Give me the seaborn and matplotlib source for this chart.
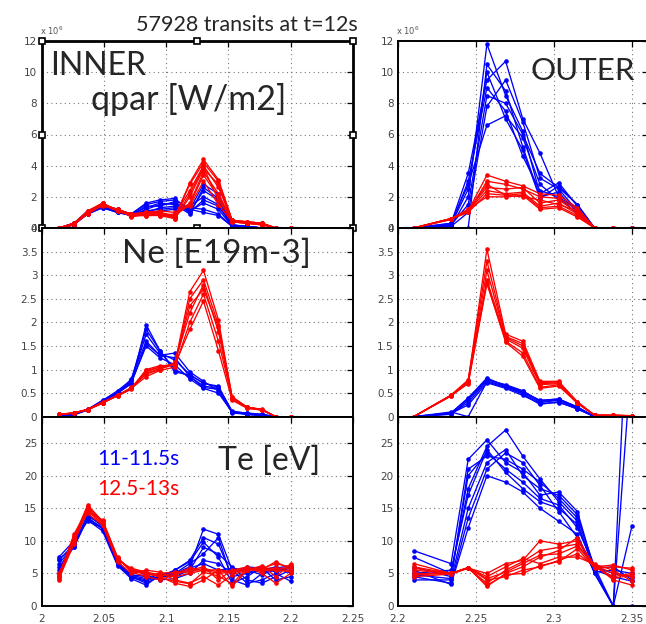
import numpy as np
import pandas as pd
import matplotlib
matplotlib.use("Agg")
import matplotlib.pyplot as plt
from matplotlib.ticker import FuncFormatter
import seaborn as sns

# ---------------- data ----------------
x_in = [2.014, 2.026, 2.037, 2.049, 2.061, 2.072, 2.084, 2.095, 2.107,
        2.119, 2.130, 2.142, 2.153, 2.165, 2.177, 2.188, 2.200]
x_out = [2.210, 2.234, 2.245, 2.257, 2.269, 2.280, 2.291, 2.303, 2.315,
         2.326, 2.338, 2.350]

# INNER qpar [1e6 W/m2]
qpar_in_blue = [
    [0, 0.3, 1.0, 1.4, 1.1, 0.9, 1.5, 1.7, 1.8, 1.2, 2.8, 2.2, 0.2, 0.1, 0, 0, 0],
    [0, 0.3, 0.9, 1.3, 1.0, 0.8, 1.2, 1.5, 1.6, 1.0, 2.4, 1.8, 0.1, 0.1, 0, 0, 0],
    [0, 0.2, 1.0, 1.4, 1.1, 0.9, 1.0, 1.3, 1.4, 1.4, 2.0, 1.5, 0.2, 0.05, 0, 0, 0],
    [0, 0.3, 1.1, 1.5, 1.2, 0.9, 1.6, 1.8, 1.9, 1.1, 1.6, 1.2, 0.1, 0.1, 0, 0, 0],
    [0, 0.2, 0.9, 1.3, 1.0, 0.8, 0.9, 1.1, 1.2, 1.3, 1.2, 0.9, 0.1, 0, 0, 0, 0],
    [0, 0.3, 1.0, 1.4, 1.1, 0.9, 1.3, 1.6, 1.5, 0.9, 2.6, 1.9, 0.2, 0.1, 0, 0, 0],
    [0, 0.2, 1.0, 1.4, 1.0, 0.9, 1.1, 1.2, 1.3, 1.2, 1.0, 0.8, 0.1, 0.05, 0, 0, 0],
    [0, 0.3, 0.9, 1.4, 1.1, 0.8, 1.4, 1.4, 1.7, 1.0, 1.8, 1.4, 0.15, 0.1, 0, 0, 0],
]
qpar_in_red = [
    [0, 0.3, 1.0, 1.6, 1.1, 0.8, 0.9, 0.9, 0.7, 2.8, 4.2, 3.0, 0.5, 0.4, 0.3, 0, 0],
    [0, 0.25, 0.9, 1.5, 1.2, 0.9, 1.0, 1.0, 0.8, 2.4, 4.0, 2.6, 0.5, 0.35, 0.3, 0, 0],
    [0, 0.3, 1.1, 1.5, 1.1, 0.8, 0.8, 0.9, 0.6, 2.0, 3.8, 2.8, 0.4, 0.3, 0.25, 0, 0],
    [0, 0.2, 1.0, 1.4, 1.2, 0.9, 1.0, 0.8, 0.9, 1.6, 3.6, 2.2, 0.45, 0.4, 0.3, 0, 0],
    [0, 0.3, 1.0, 1.6, 1.1, 0.8, 0.9, 1.0, 0.7, 2.9, 4.4, 3.1, 0.5, 0.35, 0.3, 0, 0],
    [0, 0.25, 0.9, 1.5, 1.2, 0.7, 0.9, 0.9, 0.8, 1.5, 3.4, 2.0, 0.4, 0.3, 0.2, 0, 0],
    [0, 0.3, 1.0, 1.5, 1.1, 0.8, 0.8, 0.8, 0.6, 2.2, 3.9, 1.8, 0.5, 0.4, 0.3, 0, 0],
    [0, 0.2, 1.1, 1.6, 1.1, 0.9, 1.0, 1.1, 1.0, 1.4, 3.0, 1.5, 0.4, 0.3, 0.2, 0, 0],
]

# INNER Ne [E19 m-3]
ne_in_blue = [
    [0, 0.05, 0.15, 0.33, 0.5, 0.7, 1.95, 1.4, 1.0, 0.85, 0.65, 0.6, 0.1, 0.05, 0.03, 0, 0],
    [0, 0.05, 0.15, 0.35, 0.52, 0.75, 1.75, 1.35, 1.2, 0.9, 0.7, 0.65, 0.1, 0.08, 0.05, 0, 0],
    [0, 0.04, 0.14, 0.3, 0.48, 0.8, 1.6, 1.3, 1.35, 0.95, 0.75, 0.55, 0.08, 0.05, 0.02, 0, 0],
    [0, 0.05, 0.16, 0.33, 0.5, 0.72, 1.5, 1.25, 1.1, 0.8, 0.6, 0.5, 0.1, 0.06, 0.04, 0, 0],
    [0, 0.05, 0.15, 0.34, 0.55, 0.78, 1.85, 1.4, 0.95, 0.88, 0.72, 0.62, 0.12, 0.07, 0.05, 0, 0],
    [0, 0.04, 0.15, 0.32, 0.5, 0.7, 1.55, 1.3, 1.25, 0.85, 0.62, 0.58, 0.1, 0.05, 0.03, 0, 0],
]
ne_in_red = [
    [0.05, 0.08, 0.15, 0.3, 0.45, 0.6, 0.95, 1.05, 1.12, 2.65, 3.1, 2.05, 0.4, 0.2, 0.15, 0, 0],
    [0.04, 0.08, 0.14, 0.3, 0.44, 0.58, 1.0, 1.08, 1.1, 2.5, 2.9, 1.95, 0.42, 0.2, 0.16, 0, 0],
    [0.05, 0.07, 0.15, 0.28, 0.45, 0.62, 0.9, 1.0, 1.15, 2.2, 2.8, 1.8, 0.38, 0.18, 0.14, 0, 0],
    [0.05, 0.08, 0.16, 0.3, 0.46, 0.6, 0.85, 0.98, 1.05, 2.0, 2.6, 1.6, 0.4, 0.2, 0.15, 0, 0],
    [0.04, 0.08, 0.15, 0.3, 0.45, 0.6, 0.92, 1.02, 1.1, 1.85, 2.45, 1.4, 0.35, 0.18, 0.14, 0, 0],
    [0.05, 0.08, 0.15, 0.31, 0.44, 0.61, 0.98, 1.05, 1.12, 2.35, 2.7, 1.9, 0.42, 0.2, 0.15, 0, 0],
]

# INNER Te [eV]
te_in_blue = [
    [7.0, 9.5, 13.5, 12.0, 6.5, 4.5, 3.5, 4.5, 5.0, 6.0, 11.8, 11.0, 5.5, 3.5, 4.0, 5.0, 3.8],
    [6.0, 9.0, 13.8, 12.5, 6.8, 4.8, 4.5, 4.2, 5.5, 7.0, 10.5, 9.5, 4.5, 5.0, 5.5, 6.0, 5.0],
    [5.5, 9.8, 13.2, 11.5, 6.2, 4.2, 3.2, 4.8, 4.5, 5.5, 9.0, 8.0, 6.0, 4.0, 3.5, 4.5, 5.5],
    [7.5, 10.0, 13.0, 12.0, 6.5, 4.5, 4.0, 5.0, 5.0, 6.5, 8.0, 10.5, 4.0, 3.2, 5.0, 5.5, 6.0],
    [6.5, 9.2, 13.6, 11.8, 6.6, 4.6, 4.8, 4.0, 4.2, 5.0, 7.0, 6.5, 5.0, 6.0, 5.8, 4.0, 4.5],
    [5.0, 9.5, 14.0, 12.2, 6.4, 4.4, 3.8, 4.6, 5.5, 6.8, 9.8, 7.5, 3.5, 4.5, 6.0, 5.2, 5.8],
    [7.2, 9.0, 13.4, 11.9, 6.7, 4.7, 4.2, 4.4, 4.8, 5.8, 6.5, 5.5, 5.8, 5.5, 4.8, 5.8, 6.2],
]
te_in_red = [
    [4.0, 10.5, 15.5, 13.0, 7.3, 5.5, 5.0, 4.5, 3.5, 3.0, 4.0, 5.5, 3.0, 5.5, 5.8, 6.5, 6.0],
    [4.5, 11.0, 14.8, 12.5, 7.0, 5.8, 5.2, 4.8, 4.5, 5.0, 5.5, 5.0, 5.2, 5.5, 5.6, 5.5, 5.5],
    [5.0, 10.0, 14.5, 13.2, 7.5, 5.2, 4.5, 4.0, 4.8, 5.5, 6.0, 4.0, 5.5, 6.0, 5.0, 3.5, 5.0],
    [4.2, 9.5, 15.0, 12.8, 7.2, 5.6, 4.8, 5.0, 5.2, 5.2, 5.8, 5.2, 5.4, 5.8, 5.8, 5.8, 5.8],
    [4.8, 10.8, 14.2, 12.4, 6.8, 5.0, 5.5, 5.2, 4.0, 3.5, 4.5, 3.2, 4.8, 5.5, 6.2, 4.5, 6.5],
    [4.4, 10.2, 15.2, 13.0, 7.4, 5.4, 4.9, 4.6, 5.0, 5.8, 5.4, 5.6, 5.2, 5.6, 5.4, 5.6, 5.2],
    [4.6, 10.4, 14.6, 12.6, 7.1, 5.7, 5.1, 4.4, 3.8, 3.4, 5.2, 4.6, 3.4, 5.8, 5.6, 6.8, 5.6],
]

# OUTER qpar [1e6 W/m2]
qpar_out_blue = [
    [0, 0.1, 2.0, 11.8, 8.5, 6.2, 2.2, 2.9, 1.4, 0, 0, 0],
    [0, 0.3, 3.5, 9.5, 10.7, 7.0, 4.8, 2.0, 1.2, 0, 0, 0],
    [0, 0.2, 1.5, 8.5, 8.0, 6.0, 3.5, 2.6, 1.5, 0, 0, 0],
    [0, 0.0, 0.0, 10.5, 8.8, 5.2, 2.0, 2.3, 1.0, 0, 0, 0],
    [0, 0.3, 2.8, 6.6, 7.2, 5.8, 2.8, 1.8, 1.3, 0, 0, 0],
    [0, 0.2, 3.0, 9.0, 7.5, 4.6, 2.4, 2.0, 0.9, 0, 0, 0],
    [0, 0.1, 1.0, 7.8, 9.5, 6.8, 3.2, 2.5, 1.1, 0, 0, 0],
    [0, 0.2, 2.5, 10.0, 7.0, 5.0, 1.9, 2.7, 1.5, 0, 0, 0],
]
qpar_out_red = [
    [0, 0.6, 1.1, 3.4, 3.0, 2.7, 2.2, 2.1, 1.3, 0, 0, 0],
    [0, 0.6, 1.0, 3.0, 2.8, 2.5, 2.0, 1.9, 1.2, 0, 0, 0],
    [0, 0.55, 1.2, 2.6, 2.5, 2.6, 1.6, 1.8, 1.0, 0, 0, 0],
    [0, 0.6, 1.1, 2.4, 2.2, 2.3, 1.4, 1.6, 0.9, 0, 0, 0],
    [0, 0.6, 1.0, 2.2, 2.1, 2.2, 1.3, 1.4, 0.8, 0, 0, 0],
    [0, 0.55, 1.1, 2.8, 2.1, 2.0, 1.8, 1.5, 1.1, 0, 0, 0],
    [0, 0.6, 1.2, 2.0, 2.0, 2.1, 1.2, 1.3, 0.7, 0, 0, 0],
]

# OUTER Ne [E19 m-3]
ne_out_blue = [
    [0, 0.08, 0.38, 0.8, 0.66, 0.54, 0.34, 0.38, 0.2, 0, 0, 0],
    [0, 0.06, 0.3, 0.76, 0.64, 0.5, 0.3, 0.35, 0.18, 0, 0, 0],
    [0, 0.1, 0.0, 0.74, 0.62, 0.48, 0.26, 0.32, 0.16, 0, 0, 0],
    [0, 0.05, 0.35, 0.78, 0.68, 0.55, 0.32, 0.36, 0.2, 0, 0, 0],
    [0, 0.07, 0.25, 0.72, 0.6, 0.45, 0.28, 0.3, 0.17, 0, 0, 0],
    [0, 0.08, 0.4, 0.82, 0.65, 0.52, 0.35, 0.37, 0.21, 0, 0, 0],
]
ne_out_red = [
    [0, 0.45, 0.75, 3.55, 1.75, 1.6, 0.75, 0.75, 0.3, 0.03, 0.03, 0.02],
    [0, 0.46, 0.78, 3.3, 1.7, 1.55, 0.7, 0.72, 0.32, 0.03, 0.03, 0.02],
    [0, 0.44, 0.72, 2.9, 1.65, 1.45, 0.68, 0.7, 0.28, 0.03, 0.02, 0.02],
    [0, 0.45, 0.7, 2.82, 1.6, 1.35, 0.62, 0.68, 0.3, 0.03, 0.03, 0.02],
    [0, 0.45, 0.76, 2.85, 1.58, 1.28, 0.6, 0.65, 0.29, 0.03, 0.02, 0.02],
    [0, 0.44, 0.74, 3.1, 1.68, 1.5, 0.72, 0.74, 0.31, 0.03, 0.03, 0.02],
]

# OUTER Te [eV]
te_out_blue = [
    [8.5, 6.5, 22.5, 25.5, 22.0, 20.5, 17.0, 17.5, 14.5, 5.5, 0.0, 60.0],
    [7.5, 5.0, 18.0, 24.5, 27.0, 23.0, 19.5, 16.0, 13.0, 5.0, 0.0, 12.3],
    [5.5, 3.3, 12.0, 20.0, 19.0, 17.5, 15.0, 13.0, 11.0, 5.0, 0.0, 0.0],
    [4.0, 4.0, 15.0, 22.0, 24.0, 20.0, 18.0, 17.0, 14.0, 5.5, 4.5, 3.8],
    [6.0, 4.5, 20.0, 23.5, 21.0, 19.0, 16.5, 15.5, 12.0, 6.0, 5.0, 4.5],
    [4.5, 3.5, 13.5, 21.0, 23.5, 22.0, 18.5, 14.5, 10.5, 5.2, 5.5, 5.0],
    [5.0, 5.5, 17.0, 24.0, 20.5, 18.0, 16.0, 15.0, 12.5, 5.8, 6.0, 4.0],
    [4.8, 4.2, 21.0, 23.0, 22.5, 21.0, 19.0, 16.5, 13.5, 6.0, 0.0, 39.0],
]
te_out_red = [
    [6.5, 5.0, 5.8, 5.0, 6.5, 7.0, 10.0, 9.5, 10.0, 6.3, 4.0, 3.2],
    [5.5, 5.0, 5.9, 3.0, 5.0, 6.0, 7.5, 8.5, 10.5, 6.0, 6.3, 5.5],
    [4.5, 4.9, 5.9, 4.0, 4.5, 5.5, 6.0, 7.0, 8.0, 6.2, 5.0, 4.5],
    [6.0, 5.0, 5.8, 3.5, 5.5, 6.8, 8.5, 9.0, 9.5, 6.0, 4.5, 5.0],
    [5.0, 5.0, 5.9, 4.5, 6.0, 7.3, 6.5, 7.5, 7.5, 6.4, 5.5, 3.8],
    [5.8, 4.9, 5.8, 3.2, 4.8, 5.0, 6.2, 6.8, 8.8, 5.8, 6.0, 5.8],
    [4.8, 5.0, 5.9, 4.2, 5.2, 6.5, 7.8, 8.0, 9.2, 6.1, 4.2, 4.8],
]

x_ticks_in = [2.0, 2.05, 2.1, 2.15, 2.2, 2.25]
x_ticks_out = [2.2, 2.25, 2.3, 2.35]
y_ticks_q = [0, 2, 4, 6, 8, 10, 12]
y_ticks_ne = [0, 0.5, 1, 1.5, 2, 2.5, 3, 3.5, 4]
y_ticks_te = [0, 5, 10, 15, 20, 25]

# ---------------- style ----------------
sns.set_theme(style="white")
plt.rcParams["font.family"] = ["DejaVu Sans"]
TXT = "Lato"

W, H = 646, 624
fig = plt.figure(figsize=(W / 100, H / 100), dpi=100)


def add_ax(l, t, r, b):
    return fig.add_axes([l / W, 1 - b / H, (r - l) / W, (b - t) / H])


def long_frame(blue, red, x):
    rows = []
    for g, runs in (("b", blue), ("r", red)):
        for i, ys in enumerate(runs):
            for xv, yv in zip(x, ys):
                rows.append((xv, yv, g, f"{g}{i}"))
    return pd.DataFrame(rows, columns=["x", "y", "grp", "run"])


pal = {"b": "#0000ff", "r": "#ff0000"}
fmt = FuncFormatter(lambda v, p: f"{v:g}")


def panel(ax, blue, red, x, xlim, ylim, xt, yt, xlabels, spine_w=1.4):
    df = long_frame(blue, red, x)
    sns.lineplot(data=df, x="x", y="y", hue="grp", units="run", estimator=None,
                 palette=pal, sort=False, marker="o", markersize=3.3,
                 markeredgewidth=0, linewidth=0.95, legend=False, ax=ax)
    ax.set_xlim(*xlim)
    ax.set_ylim(*ylim)
    ax.set_xticks(xt)
    ax.set_yticks(yt)
    ax.xaxis.set_major_formatter(fmt)
    ax.yaxis.set_major_formatter(fmt)
    ax.set_xlabel("")
    ax.set_ylabel("")
    ax.grid(True, linestyle=(0, (1, 3)), color="#777777", linewidth=0.8)
    ax.set_axisbelow(True)
    ax.tick_params(direction="in", length=4, width=0.9, top=True, right=True,
                   labelsize=7.5, labelcolor="#444444", color="black", pad=3)
    ax.tick_params(axis="x", pad=6)
    if not xlabels:
        ax.tick_params(labelbottom=False)
    for s in ax.spines.values():
        s.set_color("black")
        s.set_linewidth(spine_w)


rows = [(41, 228), (228, 416.7), (417, 606)]
L = (41.5, 353)
R = (398, 647.6)

ax1 = add_ax(L[0], rows[0][0], L[1], rows[0][1])
panel(ax1, qpar_in_blue, qpar_in_red, x_in, (2.0, 2.25), (0, 12), x_ticks_in, y_ticks_q, False, 2.0)
ax2 = add_ax(L[0], rows[1][0], L[1], rows[1][1])
panel(ax2, ne_in_blue, ne_in_red, x_in, (2.0, 2.25), (0, 4), x_ticks_in, y_ticks_ne, False)
ax3 = add_ax(L[0], rows[2][0], L[1], rows[2][1])
panel(ax3, te_in_blue, te_in_red, x_in, (2.0, 2.25), (0, 29), x_ticks_in, y_ticks_te, True)

ax4 = add_ax(R[0], rows[0][0], R[1], rows[0][1])
panel(ax4, qpar_out_blue, qpar_out_red, x_out, (2.2, 2.36), (0, 12), x_ticks_out, y_ticks_q, False)
ax5 = add_ax(R[0], rows[1][0], R[1], rows[1][1])
panel(ax5, ne_out_blue, ne_out_red, x_out, (2.2, 2.36), (0, 4), x_ticks_out, y_ticks_ne, False)
ax6 = add_ax(R[0], rows[2][0], R[1], rows[2][1])
panel(ax6, te_out_blue, te_out_red, x_out, (2.2, 2.36), (0, 29), x_ticks_out, y_ticks_te, True)

# selection handles on the top-left panel
hx = [0, 0.5, 1, 0, 1, 0, 0.5, 1]
hy = [1, 1, 1, 0.5, 0.5, 0, 0, 0]
ax1.plot(hx, hy, linestyle="none", marker="s", markersize=4.5, markerfacecolor="white",
         markeredgecolor="black", markeredgewidth=1.2, transform=ax1.transAxes,
         clip_on=False, zorder=10)


def ftext(px, py, s, **kw):
    fig.text(px / W, 1 - py / H, s, **kw)


ftext(40, 35, r"x 10$^{6}$", fontsize=6, color="#555555", va="baseline")
ftext(396, 35, r"x 10$^{6}$", fontsize=6, color="#555555", va="baseline")

ftext(247, 31, "57928 transits at t=12s", fontsize=15.5, family=TXT, ha="center", va="baseline")
ftext(50, 75, "INNER", fontsize=23, family=TXT, va="baseline")
ftext(91, 110, "qpar [W/m2]", fontsize=24.5, family=TXT, va="baseline")
ftext(530, 80, "OUTER", fontsize=22.5, family=TXT, va="baseline")
ftext(122, 263, "Ne [E19m-3]", fontsize=24, family=TXT, va="baseline")
ftext(218, 470, "Te [eV]", fontsize=23, family=TXT, va="baseline")
ftext(97, 465, "11-11.5s", fontsize=15, family=TXT, color="#0000ff", va="baseline")
ftext(97, 495, "12.5-13s", fontsize=15, family=TXT, color="#ff0000", va="baseline")

fig.savefig("out.png", dpi=100)
